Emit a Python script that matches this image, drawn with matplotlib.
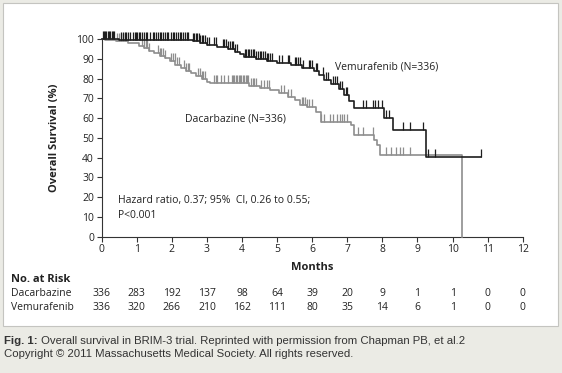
import numpy as np
import matplotlib
matplotlib.use("Agg")
import matplotlib.pyplot as plt
from matplotlib.patches import Rectangle

# ---- data ----
vem_t = [0, 0.5, 1.5, 2.6, 2.8, 3.0, 3.3, 3.6, 3.8, 3.95, 4.05, 4.4, 4.7, 5.0, 5.4, 5.7,
         6.05, 6.2, 6.35, 6.55, 6.75, 6.9, 7.05, 7.2, 8.05, 8.3, 9.24, 10.8]
vem_s = [100, 99.7, 99.4, 98.8, 98.0, 97.2, 96.2, 95.0, 93.5, 92.5, 90.8, 90.0, 89.0, 88.0, 87.0, 85.5,
         84.0, 82.0, 79.5, 77.0, 74.5, 71.5, 68.5, 65.0, 60.0, 54.0, 40.5, 40.5]
dac_t = [0, 0.1, 0.4, 0.75, 1.05, 1.2, 1.35, 1.5, 1.65, 1.8, 1.95, 2.1, 2.25, 2.4, 2.55, 2.7,
         2.85, 3.0, 3.1, 4.2, 4.5, 4.8, 5.05, 5.3, 5.5, 5.65, 5.85, 6.1, 6.25, 7.1, 7.2, 7.75,
         7.85, 7.92, 10.28, 10.28]
dac_s = [100, 99.5, 98.8, 97.9, 96.5, 95.2, 94.0, 92.8, 91.5, 90.2, 88.8, 87.0, 85.5, 84.0, 82.8, 81.5,
         79.8, 78.3, 77.5, 76.0, 75.0, 74.0, 72.5, 70.8, 69.0, 66.5, 65.5, 63.0, 58.2, 56.5, 51.5, 49.0,
         46.4, 41.3, 41.3, 0]

vem_cens = [0.03, 0.06, 0.1, 0.13, 0.17, 0.2, 0.24, 0.28, 0.32, 0.36, 0.55, 0.6, 0.65, 0.7, 0.75, 0.8,
            0.9, 0.94, 0.98, 1.02, 1.06, 1.1, 1.15, 1.2, 1.25, 1.3, 1.38, 1.45, 1.5, 1.55, 1.6, 1.65,
            1.7, 1.75, 1.8, 1.85, 1.9, 1.97, 2.02, 2.07, 2.12, 2.17, 2.22, 2.27, 2.32, 2.37, 2.42, 2.47,
            2.6, 2.64, 2.68, 2.72, 2.76, 2.8, 2.85, 2.9, 2.95, 3.0, 3.05, 3.2, 3.25, 3.45, 3.5, 3.55,
            3.6, 3.65, 3.7, 3.75, 3.8, 3.85, 4.08, 4.12, 4.16, 4.2, 4.25, 4.3, 4.35, 4.4, 4.45, 4.5,
            4.55, 4.6, 4.65, 4.7, 4.75, 4.8, 4.85, 5.05, 5.15, 5.3, 5.35, 5.5, 5.55, 5.6, 5.65, 5.75,
            5.9, 5.95, 6.0, 6.1, 6.15, 6.3, 6.4, 6.45, 6.6, 6.65, 6.7, 6.8, 6.85, 6.95, 7.0, 7.44,
            7.53, 7.72, 7.78, 7.87, 8.0, 8.1, 8.18, 8.58, 8.8, 9.15, 9.3, 9.5, 10.8]
dac_cens = [0.45, 0.5, 0.55, 0.6, 0.65, 0.7, 1.15, 1.2, 1.25, 1.3, 1.35, 1.6, 1.65, 1.7, 1.75, 1.8,
            1.97, 2.02, 2.08, 2.14, 2.2, 2.35, 2.4, 2.45, 2.5, 2.75, 2.8, 2.85, 2.9, 2.95, 3.2, 3.25,
            3.3, 3.4, 3.5, 3.6, 3.7, 3.74, 3.78, 3.82, 3.86, 3.9, 3.94, 3.98, 4.02, 4.06, 4.1, 4.14,
            4.18, 4.25, 4.3, 4.35, 4.4, 4.55, 4.62, 4.7, 4.78, 5.1, 5.2, 5.3, 5.4, 5.7, 5.75, 5.8,
            5.85, 5.9, 6.0, 6.25, 6.35, 6.5, 6.6, 6.7, 6.8, 6.85, 6.9, 7.0, 7.3, 7.45, 7.72, 8.1,
            8.25, 8.38, 8.5, 8.6, 8.8]

months = list(range(0, 13))
risk_dac = [336, 283, 192, 137, 98, 64, 39, 20, 9, 1, 1, 0, 0]
risk_vem = [336, 320, 266, 210, 162, 111, 80, 35, 14, 6, 1, 0, 0]

BLACK = "#1e1e1e"
GRAY = "#8e8e8e"
FONT = "Open Sans"

W, H = 562, 373
fig = plt.figure(figsize=(W / 100, H / 100), dpi=100)
fig.patch.set_facecolor("#ebebe5")

# white panel
fig.patches.append(Rectangle((3 / W, 1 - 326 / H), 555 / W, 323 / H, transform=fig.transFigure,
                             facecolor="white", edgecolor="#c4c4c0", lw=0.8, zorder=-5))

ax = fig.add_axes([101.7 / W, 1 - 236.7 / H, 421 / W, 197.7 / H])
ax.set_facecolor("none")
ax.set_zorder(2)


def step_val(t, s, x):
    t = np.asarray(t)
    idx = np.searchsorted(t, x, side="right") - 1
    return np.asarray(s)[idx]


ax.step(dac_t, dac_s, where="post", color=GRAY, lw=1.2, clip_on=False, zorder=3)
ax.plot(dac_cens, [step_val(dac_t[:-1], dac_s[:-1], c) for c in dac_cens], ls="none",
        marker=2, ms=6, mew=0.9, color=GRAY, clip_on=False, zorder=3)
ax.step(vem_t, vem_s, where="post", color=BLACK, lw=1.2, clip_on=False, zorder=4)
ax.plot(vem_cens, [step_val(vem_t, vem_s, c) for c in vem_cens], ls="none",
        marker=2, ms=6, mew=0.9, color=BLACK, clip_on=False, zorder=4)

ax.set_xlim(0, 12)
ax.set_ylim(0, 100)
ax.set_xticks(months)
ax.set_yticks(range(0, 101, 10))
for sp in ["top", "right"]:
    ax.spines[sp].set_visible(False)
for sp in ["left", "bottom"]:
    ax.spines[sp].set_color("#333333")
    ax.spines[sp].set_linewidth(0.8)
ax.tick_params(direction="out", length=3.5, width=0.8, color="#333333", labelsize=7.5,
               labelcolor="#222222", pad=2)
for lab in ax.get_xticklabels() + ax.get_yticklabels():
    lab.set_fontfamily(FONT)

ax.set_ylabel("Overall Survival (%)", fontfamily=FONT, fontsize=8, fontweight="bold",
              color="#222222")
ax.yaxis.set_label_coords(-0.099, 0.5)


def px(x, y):
    return x / W, 1 - y / H


txt = dict(fontfamily=FONT, fontsize=7.5, color="#222222")
fig.text(*px(335, 67), "Vemurafenib (N=336)", va="center", ha="left", **txt)
fig.text(*px(185, 119), "Dacarbazine (N=336)", va="center", ha="left", **txt)
fig.text(*px(118, 200), "Hazard ratio, 0.37; 95%  CI, 0.26 to 0.55;", va="center", ha="left", **txt)
fig.text(*px(118, 215), "P<0.001", va="center", ha="left", **txt)
fig.text(*px(312, 268), "Months", va="center", ha="center", fontweight="bold",
         fontfamily=FONT, fontsize=8, color="#222222")
fig.text(*px(11, 280), "No. at Risk", va="center", ha="left", fontweight="bold",
         fontfamily=FONT, fontsize=8, color="#222222")
fig.text(*px(11, 294), "Dacarbazine", va="center", ha="left", **txt)
fig.text(*px(11, 307), "Vemurafenib", va="center", ha="left", **txt)

for m, a, b in zip(months, risk_dac, risk_vem):
    xf = ax.transData.transform((m, 0))[0] / W
    fig.text(xf, 1 - 294 / H, str(a), va="center", ha="center", **txt)
    fig.text(xf, 1 - 307 / H, str(b), va="center", ha="center", **txt)

cap = dict(fontfamily="Liberation Sans", fontsize=8.2, color="#333333")
t1 = fig.text(*px(4, 341), "Fig. 1:", va="center", ha="left", fontweight="bold", **cap)
fig.canvas.draw()
fig.text(0, 0, " Overall survival in BRIM-3 trial. Reprinted with permission from Chapman PB, et al.2",
         transform=matplotlib.transforms.blended_transform_factory(
             matplotlib.transforms.IdentityTransform(), fig.transFigure),
         va="center", ha="left", **cap).set_position(
    (t1.get_window_extent().x1, 1 - 341 / H))
fig.text(*px(4, 354), "Copyright \u00a9 2011 Massachusetts Medical Society. All rights reserved.",
         va="center", ha="left", **cap)

fig.savefig("out.png", dpi=100, facecolor=fig.get_facecolor())
